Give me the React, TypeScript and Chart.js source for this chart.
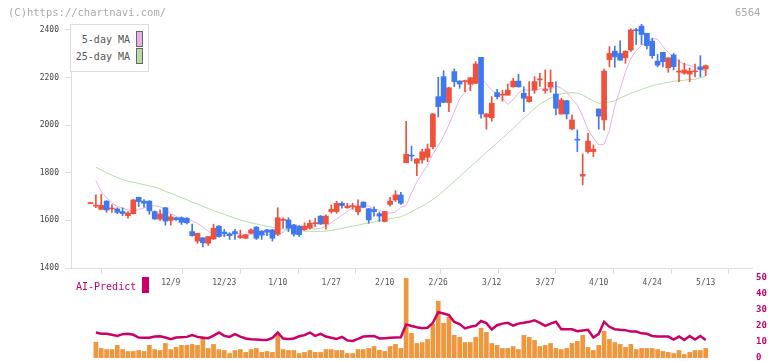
import React, { useEffect, useRef } from 'react';
import { Chart, registerables } from 'chart.js';
Chart.register(...registerables);

// ---- Data (one entry per trading day, index 0..115) ----
const tickLabels = ['12/9', '12/23', '1/10', '1/27', '2/10', '2/26', '3/12', '3/27', '4/10', '4/24', '5/13'];
const tickIndex = [15, 25, 35, 45, 55, 65, 75, 85, 95, 105, 115];
const yTicks = [1400, 1600, 1800, 2000, 2200, 2400];
const volTicks = [0, 10, 20, 30, 40, 50];

const openP = [
  1671, 1660, 1646, 1681, 1648, 1648, 1637, 1620, 1628, 1697, 1681, 1681, 1637, 1605, 1653, 1600, 1611, 1611, 1609, 1553,
  1513, 1527, 1504, 1522, 1576, 1551, 1544, 1553, 1528, 1525, 1546, 1572, 1555, 1560, 1560, 1542, 1600, 1602, 1581, 1576,
  1560, 1568, 1586, 1618, 1585, 1637, 1637, 1672, 1653, 1658, 1636, 1677, 1649, 1646, 1628, 1595, 1667, 1686, 1707, 1842,
  1874, 1840, 1854, 1865, 1909, 2120, 2204, 2095, 2225, 2185, 2183, 2172, 2176, 2285, 2035, 2031, 2137, 2126, 2126, 2161,
  2185, 2134, 2099, 2148, 2190, 2146, 2160, 2131, 2047, 2103, 1984, 1940, 1786, 1889, 1889, 2068, 2022, 2275, 2311, 2301,
  2283, 2316, 2400, 2416, 2386, 2353, 2269, 2306, 2241, 2295, 2223, 2218, 2215, 2224, 2245, 2236,
];
const highP = [
  1673, 1707, 1710, 1683, 1665, 1653, 1653, 1637, 1688, 1698, 1687, 1683, 1640, 1644, 1655, 1625, 1613, 1615, 1612, 1585,
  1546, 1527, 1532, 1584, 1578, 1562, 1548, 1562, 1559, 1542, 1565, 1574, 1557, 1562, 1562, 1653, 1611, 1611, 1583, 1578,
  1590, 1601, 1609, 1620, 1623, 1665, 1680, 1679, 1672, 1672, 1686, 1678, 1650, 1657, 1635, 1638, 1697, 1725, 1718, 2016,
  1912, 1860, 1899, 1921, 2049, 2201, 2229, 2159, 2236, 2187, 2189, 2200, 2267, 2285, 2049, 2120, 2151, 2147, 2173, 2197,
  2214, 2161, 2183, 2204, 2218, 2232, 2232, 2183, 2113, 2104, 2043, 1980, 1879, 1966, 1917, 2068, 2236, 2330, 2332, 2354,
  2312, 2405, 2407, 2425, 2386, 2365, 2297, 2306, 2283, 2301, 2274, 2260, 2241, 2257, 2292, 2253,
];
const lowP = [
  1671, 1653, 1646, 1634, 1634, 1628, 1620, 1609, 1627, 1658, 1656, 1626, 1604, 1600, 1580, 1580, 1600, 1583, 1585, 1534,
  1504, 1489, 1495, 1520, 1530, 1532, 1520, 1520, 1524, 1523, 1544, 1520, 1520, 1536, 1513, 1536, 1567, 1553, 1534, 1533,
  1558, 1563, 1574, 1583, 1563, 1630, 1630, 1651, 1651, 1647, 1623, 1653, 1588, 1618, 1595, 1594, 1660, 1679, 1667, 1842,
  1850, 1788, 1840, 1847, 1900, 2035, 2094, 2057, 2162, 2155, 2141, 2144, 2175, 2029, 1983, 2017, 2110, 2101, 2126, 2160,
  2160, 2057, 2096, 2134, 2162, 2134, 2138, 2043, 2046, 2026, 1980, 1889, 1749, 1882, 1868, 1983, 1980, 2245, 2243, 2273,
  2260, 2310, 2339, 2339, 2320, 2281, 2245, 2245, 2222, 2232, 2183, 2214, 2183, 2203, 2203, 2208,
];
const closeP = [
  1673, 1664, 1663, 1644, 1652, 1634, 1629, 1631, 1686, 1679, 1672, 1640, 1606, 1627, 1597, 1615, 1603, 1592, 1590, 1536,
  1546, 1506, 1532, 1567, 1532, 1544, 1536, 1544, 1536, 1539, 1560, 1525, 1538, 1550, 1525, 1611, 1605, 1567, 1542, 1540,
  1576, 1588, 1590, 1585, 1618, 1646, 1672, 1662, 1660, 1661, 1660, 1655, 1602, 1637, 1618, 1637, 1681, 1707, 1672, 1878,
  1870, 1858, 1888, 1900, 2047, 2078, 2096, 2157, 2183, 2173, 2187, 2199, 2257, 2047, 2047, 2092, 2120, 2130, 2147, 2185,
  2161, 2113, 2120, 2183, 2193, 2148, 2180, 2071, 2106, 2047, 2022, 1937, 1793, 1933, 1899, 2038, 2227, 2301, 2287, 2273,
  2311, 2400, 2397, 2381, 2334, 2292, 2252, 2267, 2283, 2246, 2226, 2232, 2227, 2227, 2234, 2250,
];
const ma5 = [
  null, 1767, 1720, 1695, 1672, 1659, 1651, 1644, 1638, 1646, 1652, 1659, 1662, 1657, 1645, 1628, 1617, 1610, 1607, 1599,
  1587, 1573, 1554, 1542, 1537, 1537, 1536, 1542, 1545, 1538, 1540, 1543, 1541, 1540, 1542, 1540, 1550, 1566, 1572, 1570,
  1573, 1566, 1563, 1567, 1576, 1591, 1605, 1622, 1637, 1652, 1660, 1663, 1660, 1648, 1643, 1634, 1630, 1635, 1656, 1663,
  1715, 1762, 1797, 1833, 1879, 1913, 1954, 2002, 2056, 2112, 2137, 2159, 2180, 2200, 2173, 2147, 2128, 2113, 2087, 2107,
  2135, 2149, 2147, 2145, 2152, 2154, 2151, 2165, 2155, 2140, 2110, 2085, 2037, 1981, 1946, 1917, 1920, 1978, 2080, 2150,
  2225, 2280, 2314, 2334, 2352, 2365, 2361, 2331, 2305, 2286, 2268, 2255, 2251, 2243, 2232, 2229,
];
const ma25 = [
  null, 1823, 1812, 1800, 1790, 1780, 1771, 1765, 1760, 1755, 1750, 1745, 1740, 1732, 1722, 1714, 1705, 1696, 1687, 1676,
  1668, 1659, 1650, 1641, 1633, 1625, 1617, 1609, 1602, 1596, 1590, 1585, 1580, 1575, 1571, 1567, 1564, 1561, 1558, 1556,
  1555, 1554, 1554, 1554, 1555, 1558, 1562, 1566, 1571, 1576, 1580, 1585, 1589, 1594, 1599, 1603, 1607, 1611, 1615, 1625,
  1636, 1648, 1660, 1673, 1688, 1705, 1724, 1744, 1764, 1784, 1805, 1825, 1845, 1866, 1886, 1906, 1926, 1946, 1966, 1986,
  2008, 2030, 2050, 2070, 2088, 2102, 2114, 2124, 2131, 2135, 2137, 2134, 2127, 2114, 2102, 2092, 2094, 2097, 2103, 2114,
  2124, 2134, 2142, 2150, 2158, 2166, 2171, 2176, 2180, 2184, 2187, 2189, 2191, 2193, 2199, 2206,
];
const volume = [
  null, 9.9, 6.0, 5.3, 5.3, 7.9, 5.3, 4.1, 4.1, 4.7, 4.1, 7.9, 5.3, 4.7, 9.1, 5.3, 6.6, 7.9, 7.9, 8.5,
  7.9, 13.3, 6.0, 8.5, 5.3, 4.7, 2.8, 4.7, 5.3, 3.5, 5.3, 6.0, 3.5, 4.1, 3.5, 14.2, 5.3, 4.7, 4.7, 2.8,
  3.5, 4.7, 3.5, 3.5, 5.3, 5.3, 4.7, 4.7, 2.8, 2.8, 5.3, 5.3, 6.0, 7.2, 4.9, 4.1, 7.2, 8.5, 6.0, 50,
  15.4, 9.1, 9.7, 11.6, 21.1, 35.5, 21.7, 25.5, 14.2, 12.9, 9.7, 9.7, 12.9, 18.6, 16.0, 9.1, 7.9, 6.0, 6.0, 7.2,
  5.3, 14.2, 12.9, 11.0, 7.2, 7.9, 9.1, 6.0, 5.3, 6.0, 9.1, 10.4, 14.2, 6.6, 4.7, 7.9, 16.7, 11.6, 9.7, 8.5,
  6.6, 8.5, 5.3, 6.0, 6.0, 6.0, 5.3, 4.1, 3.5, 2.8, 4.7, 2.2, 3.5, 4.7, 4.7, 6.0,
];
const aiPredict = [
  null, 15.9, 15.1, 15.1, 14.5, 13.8, 14.9, 15.1, 14.5, 12.8, 12.6, 12.6, 13.4, 13.6, 12.8, 11.7, 12.8, 13.0, 13.2, 14.3,
  13.2, 12.6, 12.4, 14.0, 15.9, 13.8, 13.2, 14.9, 13.4, 12.2, 11.7, 11.5, 11.3, 11.3, 12.5, 15.9, 12.2, 11.9, 12.2, 13.6,
  14.3, 15.9, 13.8, 15.1, 13.4, 12.6, 11.9, 13.2, 11.0, 10.7, 11.9, 13.4, 13.6, 13.8, 12.2, 12.4, 12.6, 12.8, 13.0, 21.0,
  20.0, 19.2, 18.6, 18.9, 22.0, 28.6, 27.8, 26.8, 22.5, 21.2, 18.5, 19.5, 20.1, 23.1, 21.8, 17.8, 20.5, 21.5, 22.0, 20.3,
  21.5, 22.0, 22.6, 23.6, 22.0, 20.1, 21.5, 22.6, 18.0, 18.0, 18.0, 16.8, 17.2, 17.6, 12.8, 15.1, 22.6, 19.5, 18.0, 17.6,
  17.4, 16.5, 16.5, 15.4, 15.1, 13.8, 13.4, 13.4, 13.4, 11.5, 13.4, 11.3, 13.8, 11.5, 13.8, 11.3,
];

const UP = '#f0503c';
const DOWN = '#4078f0';
const PINK = '#e6b2e8';
const GREEN = '#b6dca6';
const MAGENTA = '#cc0066';
const ORANGE = '#f0963c';
const MONO = '"DejaVu Sans Mono", monospace';

const X_MIN = -3.65;
const X_MAX = 123.65;

export default function App() {
  const topRef = useRef<HTMLCanvasElement>(null);
  const botRef = useRef<HTMLCanvasElement>(null);

  useEffect(() => {
    document.body.style.margin = '0';
    const idx = closeP.map((_, i) => i);
    const colors = idx.map((i) => (closeP[i] >= openP[i] ? UP : DOWN));
    const gridTicks: number[] = [];
    for (let k = 0; k <= 11; k++) gridTicks.push(X_MIN + (k * (X_MAX - X_MIN)) / 11);
    const gridSet = new Set(gridTicks);
    const labelMap = new Map<number, string>();
    tickIndex.forEach((v, i) => labelMap.set(v, tickLabels[i]));

    const top = new Chart(topRef.current as HTMLCanvasElement, {
      type: 'bar',
      data: {
        datasets: [
          {
            type: 'bar',
            label: 'body',
            data: idx.map((i) => ({ x: i, y: [openP[i], closeP[i]] })) as any,
            backgroundColor: colors,
            barThickness: 5,
            minBarLength: 1,
            grouped: false,
            borderWidth: 0,
            order: 0,
          } as any,
          {
            type: 'bar',
            label: 'wick',
            data: idx.map((i) => ({ x: i, y: [lowP[i], highP[i]] })) as any,
            backgroundColor: colors,
            barThickness: 1,
            minBarLength: 1,
            grouped: false,
            borderWidth: 0,
            order: 1,
          } as any,
          {
            type: 'line',
            label: '5-day MA',
            data: idx.map((i) => ({ x: i, y: ma5[i] })) as any,
            borderColor: PINK,
            borderWidth: 1,
            pointRadius: 0,
            order: 2,
          } as any,
          {
            type: 'line',
            label: '25-day MA',
            data: idx.map((i) => ({ x: i, y: ma25[i] })) as any,
            borderColor: GREEN,
            borderWidth: 1,
            pointRadius: 0,
            order: 3,
          } as any,
        ],
      },
      options: {
        responsive: false,
        animation: false,
        devicePixelRatio: 1,
        layout: { padding: { left: 0, right: 20, top: 24, bottom: 0 } },
        plugins: { legend: { display: false }, tooltip: { enabled: false } },
        scales: {
          x: {
            type: 'linear',
            min: X_MIN,
            max: X_MAX,
            offset: false,
            afterBuildTicks: (s: any) => {
              const all = [...gridTicks, ...tickIndex].sort((a, b) => a - b);
              s.ticks = all.map((v) => ({ value: v }));
            },
            afterFit: (s: any) => {
              s.height = 32;
            },
            ticks: {
              autoSkip: false,
              maxRotation: 0,
              padding: 4,
              color: '#555',
              font: { family: MONO, size: 8 },
              callback: (v: any) => labelMap.get(v) ?? '',
            },
            grid: {
              drawOnChartArea: false,
              drawTicks: true,
              tickLength: 6,
              tickColor: (ctx: any) => (ctx.tick && gridSet.has(ctx.tick.value) ? '#dddddd' : 'rgba(0,0,0,0)'),
            },
            border: { display: true, color: '#dddddd' },
          },
          y: {
            type: 'linear',
            min: 1400,
            max: 2425,
            afterBuildTicks: (s: any) => {
              s.ticks = yTicks.map((v) => ({ value: v }));
            },
            afterFit: (s: any) => {
              s.width = 71;
            },
            ticks: {
              padding: 6,
              color: '#444',
              font: { family: MONO, size: 8 },
              callback: (v: any) => String(v),
            },
            grid: { drawOnChartArea: false, drawTicks: true, tickLength: 6, tickColor: '#dddddd' },
            border: { display: true, color: '#dddddd' },
          },
        },
      } as any,
    });

    const bot = new Chart(botRef.current as HTMLCanvasElement, {
      type: 'bar',
      data: {
        datasets: [
          {
            type: 'line',
            label: 'AI-Predict',
            data: idx.map((i) => ({ x: i, y: aiPredict[i] })) as any,
            borderColor: MAGENTA,
            borderWidth: 2.5,
            pointRadius: 0,
            order: 0,
          } as any,
          {
            type: 'bar',
            label: 'volume',
            data: idx.map((i) => ({ x: i, y: volume[i] })) as any,
            backgroundColor: ORANGE,
            barThickness: 4,
            grouped: false,
            borderWidth: 0,
            order: 1,
          } as any,
        ],
      },
      options: {
        responsive: false,
        animation: false,
        devicePixelRatio: 1,
        layout: { padding: { left: 71, right: 0, top: 16, bottom: 14 } },
        plugins: { legend: { display: false }, tooltip: { enabled: false } },
        scales: {
          x: { type: 'linear', min: X_MIN, max: X_MAX, offset: false, display: false },
          y: {
            type: 'linear',
            position: 'right',
            min: 0,
            max: 50,
            afterBuildTicks: (s: any) => {
              s.ticks = volTicks.map((v) => ({ value: v }));
            },
            afterFit: (s: any) => {
              s.width = 20;
            },
            ticks: {
              padding: 4,
              color: MAGENTA,
              font: { family: MONO, size: 9, weight: 'bold' },
              callback: (v: any) => String(v),
            },
            grid: { display: false, drawTicks: false },
            border: { display: false },
          },
        },
      } as any,
    });

    return () => {
      top.destroy();
      bot.destroy();
    };
  }, []);

  const txt: React.CSSProperties = { position: 'absolute', fontFamily: MONO, whiteSpace: 'nowrap', lineHeight: 1 };

  return (
    <div style={{ position: 'relative', width: 772, height: 361, overflow: 'hidden', background: '#fff' }}>
      <canvas ref={topRef} width={772} height={300} style={{ position: 'absolute', left: 0, top: 0 }} />
      <canvas ref={botRef} width={772} height={110} style={{ position: 'absolute', left: 0, top: 262 }} />
      <div style={{ ...txt, left: 8, top: 7, fontSize: 10.5, color: '#aaa' }}>(C)https://chartnavi.com/</div>
      <div style={{ ...txt, left: 735, top: 7, fontSize: 10.5, color: '#aaa' }}>6564</div>
      <div
        style={{
          position: 'absolute',
          left: 70,
          top: 24,
          width: 77,
          height: 46,
          border: '1px solid #dddddd',
          background: '#fff',
        }}
      >
        <div style={{ ...txt, right: 18, top: 10, fontSize: 10, color: '#555' }}>5-day MA</div>
        <div style={{ position: 'absolute', left: 65, top: 6, width: 5, height: 14, background: PINK, border: '1px solid #666' }} />
        <div style={{ ...txt, right: 18, top: 27, fontSize: 10, color: '#555' }}>25-day MA</div>
        <div style={{ position: 'absolute', left: 65, top: 23, width: 5, height: 14, background: GREEN, border: '1px solid #666' }} />
      </div>
      <div style={{ ...txt, left: 76, top: 282, fontSize: 10, color: MAGENTA }}>AI-Predict</div>
      <div style={{ position: 'absolute', left: 142, top: 277, width: 7, height: 16, background: MAGENTA }} />
    </div>
  );
}
